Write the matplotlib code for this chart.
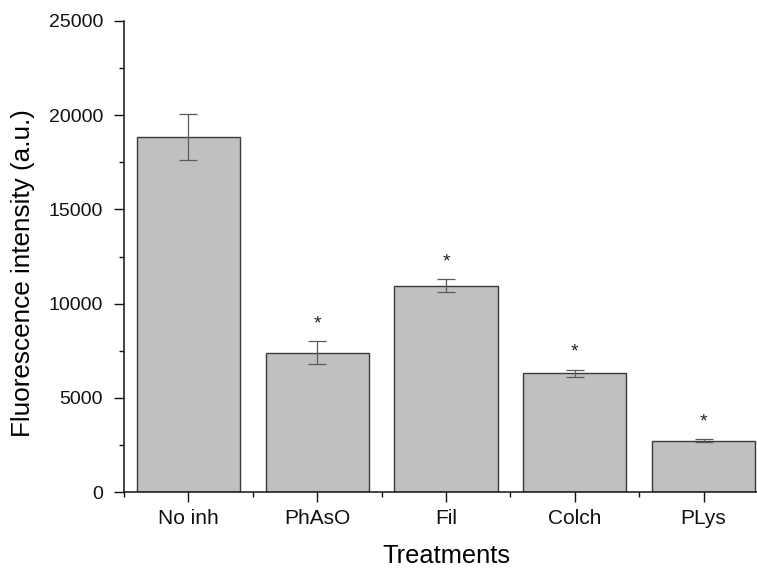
import matplotlib
matplotlib.use("Agg")
import matplotlib.pyplot as plt
from matplotlib.ticker import MultipleLocator, FixedLocator

plt.rcParams['font.family'] = ['Liberation Sans', 'DejaVu Sans']

treatments = ["No inh", "PhAsO", "Fil", "Colch", "PLys"]
intensity = [18840, 7400, 10960, 6300, 2730]
errors = [1240, 600, 345, 180, 70]
significant = [False, True, True, True, True]

fig = plt.figure(figsize=(7.57, 5.69), dpi=100)
ax = fig.add_axes([0.1638, 0.1353, 0.8507, 0.8278])

x = list(range(1, len(treatments) + 1))
ax.bar(x, intensity, width=0.8, color="#c0c0c0", edgecolor="#3a3a3a",
       linewidth=1.0, zorder=2)
ax.errorbar(x, intensity, yerr=errors, fmt="none", ecolor="#5a5a5a",
            elinewidth=0.9, capsize=6.5, capthick=0.9, zorder=3)

for xi, yi, ei, sig in zip(x, intensity, errors, significant):
    if sig:
        ax.annotate("*", xy=(xi, yi + ei), xytext=(0, 6.5), textcoords="offset points",
                    ha="center", va="bottom", fontsize=14, color="#222222")

ax.set_xlim(0.5, 5.5)
ax.set_ylim(0, 25000)
ax.set_xticks(x)
ax.set_xticklabels(treatments)
ax.xaxis.set_minor_locator(FixedLocator([0.5, 1.5, 2.5, 3.5, 4.5, 5.5]))
ax.yaxis.set_major_locator(MultipleLocator(5000))
ax.yaxis.set_minor_locator(MultipleLocator(2500))

ax.spines["top"].set_visible(False)
ax.spines["right"].set_visible(False)
for s in ("left", "bottom"):
    ax.spines[s].set_linewidth(1.1)
    ax.spines[s].set_color("#111111")

ax.tick_params(axis="both", which="major", direction="out", length=7, width=1.0,
               colors="#111111")
ax.tick_params(axis="both", which="minor", direction="out", length=3.5, width=1.0,
               colors="#111111")
ax.tick_params(axis="x", which="major", labelsize=15, pad=5)
ax.tick_params(axis="y", which="major", labelsize=14, pad=8)

ax.set_xlabel("Treatments", fontsize=18.3, labelpad=12)
ax.set_ylabel("Fluorescence intensity (a.u.)", fontsize=18.8, va="center")
ax.yaxis.set_label_coords(-0.157, 0.464)

fig.savefig("out.png", dpi=100)
